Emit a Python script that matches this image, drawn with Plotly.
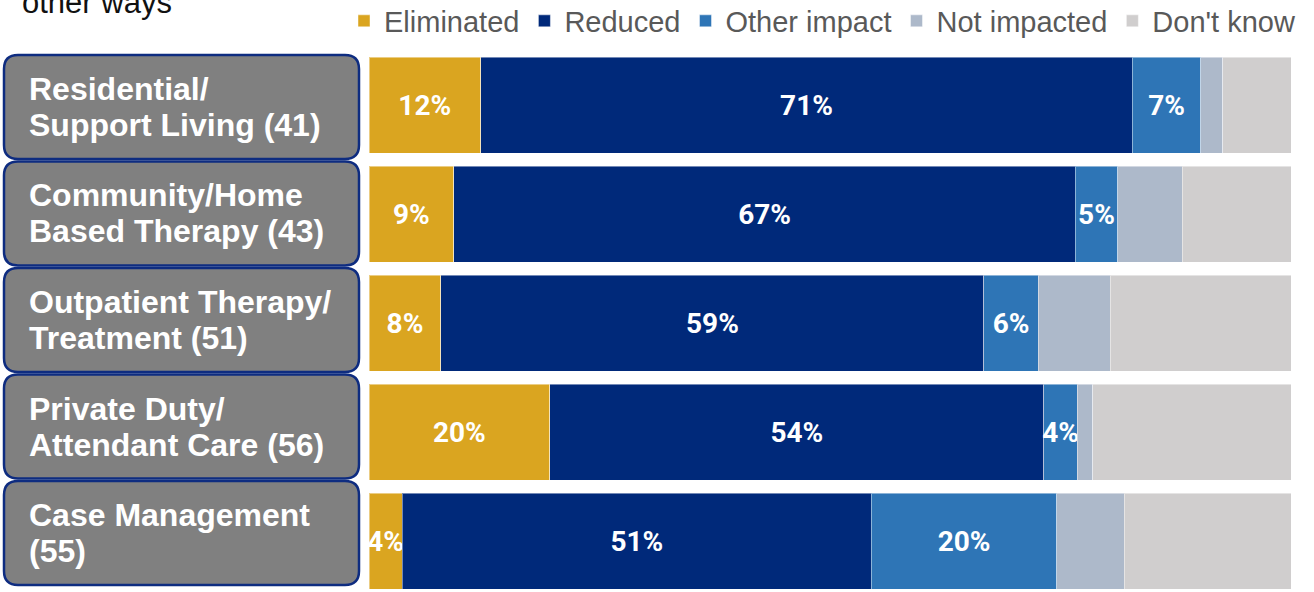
import re
import plotly.graph_objects as go

# ---------------- data ----------------
categories = [
    "Residential/ Support Living (41)",
    "Community/Home Based Therapy (43)",
    "Outpatient Therapy/ Treatment (51)",
    "Private Duty/ Attendant Care (56)",
    "Case Management (55)",
]
label_lines = [
    ["Residential/", "Support Living (41)"],
    ["Community/Home", "Based Therapy (43)"],
    ["Outpatient Therapy/", "Treatment (51)"],
    ["Private Duty/", "Attendant Care (56)"],
    ["Case Management", "(55)"],
]
series_names = ["Eliminated", "Reduced", "Other impact", "Not impacted", "Don't know"]
eliminated = [12.1, 9.2, 7.8, 19.6, 3.6]
reduced = [70.7, 67.4, 58.9, 53.6, 50.9]
other_impact = [7.4, 4.6, 5.9, 3.6, 20.1]
not_impacted = [2.4, 7.0, 7.8, 1.7, 7.3]
dont_know = [7.4, 11.8, 19.6, 21.5, 18.1]
show_labels = [True, True, True, False, False]

series_values = [eliminated, reduced, other_impact, not_impacted, dont_know]
colors = ["#DAA520", "#00297A", "#2E75B6", "#ADB9CA", "#D0CECE"]

W, H = 1314, 592
M_T, M_B, M_L, M_R = 50, 0, 0, 23
plot_w = W - M_L - M_R
plot_h = H - M_T - M_B
bar_x0 = 369

fig = go.Figure()
for name, vals, col, show in zip(series_names, series_values, colors, show_labels):
    texts = [f"{round(v)}%" if show else "" for v in vals]
    fig.add_trace(go.Bar(
        y=categories, x=vals, name=name, orientation="h",
        marker=dict(color=col, line=dict(color="rgba(255,255,255,0.45)", width=1)),
        text=texts, textposition="inside", insidetextanchor="middle", textangle=0,
        textfont=dict(family="Roboto, Liberation Sans, sans-serif",
                      size=28, color="white", weight="bold"),
        hoverinfo="x+name",
    ))

# y axis range so rows land where the reference puts them
y_top = -0.505
y_bot = y_top + plot_h / 109.0

fig.update_layout(
    width=W, height=H,
    barmode="stack", bargap=0.12,
    plot_bgcolor="white", paper_bgcolor="white",
    margin=dict(l=M_L, r=M_R, t=M_T, b=M_B, autoexpand=False),
    font=dict(family="Liberation Sans, Arial, sans-serif"),
    xaxis=dict(domain=[bar_x0 / plot_w, 1], range=[0, 100], visible=False, fixedrange=True),
    yaxis=dict(categoryorder="array", categoryarray=categories, range=[y_bot, y_top],
               visible=False, fixedrange=True),
    uniformtext=dict(minsize=28, mode="show"),
    legend=dict(orientation="h", x=344 / plot_w, xanchor="left",
                y=1 + (M_T - 21) / plot_h, yanchor="middle",
                font=dict(size=29, color="#595959"), traceorder="normal",
                itemclick=False, itemdoubleclick=False),
    showlegend=True,
)


def py(pix):
    return 1 - (pix - M_T) / plot_h


shapes = []
annotations = []
r = 14
for i, lines in enumerate(label_lines):
    top = 55 + 106.5 * i
    bot = top + 104
    x0p, x1p = 4, 359
    path = (f"M {x0p + r},{top} L {x1p - r},{top} Q {x1p},{top} {x1p},{top + r} "
            f"L {x1p},{bot - r} Q {x1p},{bot} {x1p - r},{bot} L {x0p + r},{bot} "
            f"Q {x0p},{bot} {x0p},{bot - r} L {x0p},{top + r} Q {x0p},{top} {x0p + r},{top} Z")

    def conv(m):
        xpx, ypx = float(m.group(1)), float(m.group(2))
        return f"{xpx / plot_w:.5f},{py(ypx):.5f}"

    path_paper = re.sub(r"(-?\d+\.?\d*),(-?\d+\.?\d*)", conv, path)
    shapes.append(dict(type="path", path=path_paper, xref="paper", yref="paper",
                       fillcolor="#808080", line=dict(color="#0E2C80", width=2.5), layer="below"))
    mid = (top + bot) / 2
    for j, line in enumerate(lines):
        yc = mid - 18 + 36 * j
        annotations.append(dict(text=f"<b>{line}</b>", x=27 / plot_w, y=py(yc), xref="paper", yref="paper",
                                xanchor="left", yanchor="middle", showarrow=False,
                                font=dict(size=32, color="white", family="Liberation Sans, Arial, sans-serif")))

annotations.append(dict(text="other ways", x=20 / plot_w, y=py(3), xref="paper", yref="paper",
                        xanchor="left", yanchor="middle", showarrow=False,
                        font=dict(size=31, color="#111111", family="Liberation Sans, Arial, sans-serif")))

fig.update_layout(shapes=shapes, annotations=annotations)
fig.write_html("out.html")
